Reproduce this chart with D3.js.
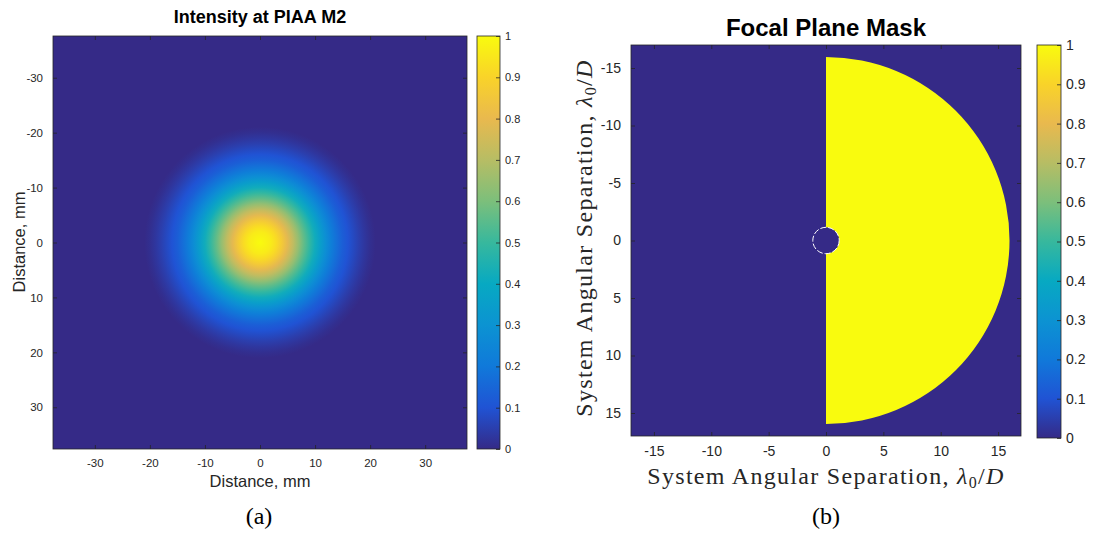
<!DOCTYPE html>
<html>
<head>
<meta charset="utf-8">
<script src="https://cdn.jsdelivr.net/npm/d3@7"></script>
<style>
  body { margin: 0; background: #fff; }
  svg { display: block; }
  .tick text { fill: #262626; }
</style>
</head>
<body>
<script>
// parula colormap stops (value -> colour)
var cmapValues = [0, 0.1, 0.2, 0.3, 0.4, 0.5, 0.6, 0.7, 0.8, 0.9, 1];
var cmapColors = ["#352a87", "#2053d4", "#1079da", "#0c93d2", "#07a9c2", "#37b89d",
                  "#7cbf7b", "#b7bd64", "#e9b94e", "#f9d329", "#f9fb0e"];

// (a) radial intensity profile
var radiusMm = [0, 2, 3, 4, 5, 6, 7, 8, 9, 10, 11, 12, 13, 14, 15, 16, 17, 18, 19, 20, 21];
var intensity = [1, 0.96, 0.92, 0.86, 0.79, 0.72, 0.64, 0.56, 0.49, 0.42, 0.35, 0.28,
                 0.22, 0.17, 0.13, 0.1, 0.075, 0.05, 0.03, 0.012, 0];
var ticksA = [-30, -20, -10, 0, 10, 20, 30];

// (b) focal plane mask: half annulus
var maskInner = 1.15;
var maskOuter = 16;
var ticksB = [-15, -10, -5, 0, 5, 10, 15];
var cbTicks = [0, 0.1, 0.2, 0.3, 0.4, 0.5, 0.6, 0.7, 0.8, 0.9, 1];

var width = 1099, height = 534;
var svg = d3.select("body").append("svg").attr("width", width).attr("height", height);
var defs = svg.append("defs");

var color = d3.scaleLinear().domain(cmapValues).range(cmapColors);
var sans = "'Liberation Sans', Arial, Helvetica, sans-serif";
var serif = "'Liberation Serif', 'DejaVu Serif', serif";
var frameColor = "#262626";
var hyphen = function(d) { return String(d).replace("\u2212", "-"); };

// inward ticks on all four sides, MATLAB style
function boxAxes(g, x, y, ticks, fontSize) {
  var x0 = x.range()[0], x1 = x.range()[1], y0 = y.range()[0], y1 = y.range()[1];
  g.append("g").attr("transform", "translate(0," + y1 + ")")
    .call(d3.axisBottom(x).tickValues(ticks).tickSizeInner(-4).tickSizeOuter(0).tickPadding(10).tickFormat(hyphen));
  g.append("g").attr("transform", "translate(0," + y0 + ")")
    .call(d3.axisTop(x).tickValues(ticks).tickSizeInner(-4).tickSizeOuter(0).tickFormat(""));
  g.append("g").attr("transform", "translate(" + x0 + ",0)")
    .call(d3.axisLeft(y).tickValues(ticks).tickSizeInner(-4).tickSizeOuter(0).tickPadding(10).tickFormat(hyphen));
  g.append("g").attr("transform", "translate(" + x1 + ",0)")
    .call(d3.axisRight(y).tickValues(ticks).tickSizeInner(-4).tickSizeOuter(0).tickFormat(""));
  g.selectAll(".domain").remove();
  g.selectAll(".tick line").attr("stroke", frameColor).attr("stroke-width", 0.8);
  g.selectAll(".tick text").attr("font-family", sans).attr("font-size", fontSize);
  g.append("rect").attr("x", x0).attr("y", y0).attr("width", x1 - x0).attr("height", y1 - y0)
    .attr("fill", "none").attr("stroke", frameColor).attr("stroke-width", 0.8);
}

function colorbar(id, x0, x1, y0, y1, fontSize) {
  var cy = d3.scaleLinear().domain([0, 1]).range([y1, y0]);
  var grad = defs.append("linearGradient").attr("id", id)
    .attr("x1", 0).attr("y1", 1).attr("x2", 0).attr("y2", 0);
  grad.selectAll("stop").data(cmapValues).enter().append("stop")
    .attr("offset", function(d) { return d; })
    .attr("stop-color", function(d) { return color(d); });
  var g = svg.append("g");
  g.append("rect").attr("x", x0).attr("y", y0).attr("width", x1 - x0).attr("height", y1 - y0)
    .attr("fill", "url(#" + id + ")");
  var ax = g.append("g").attr("transform", "translate(" + x1 + ",0)")
    .call(d3.axisRight(cy).tickValues(cbTicks).tickSizeInner(-4).tickSizeOuter(0).tickPadding(5)
      .tickFormat(function(d) { return d === 0 || d === 1 ? d3.format("d")(d) : d3.format(".1f")(d); }));
  ax.select(".domain").remove();
  ax.selectAll(".tick line").attr("stroke", frameColor).attr("stroke-width", 0.8);
  ax.selectAll(".tick text").attr("font-family", sans).attr("font-size", fontSize);
  g.append("rect").attr("x", x0).attr("y", y0).attr("width", x1 - x0).attr("height", y1 - y0)
    .attr("fill", "none").attr("stroke", frameColor).attr("stroke-width", 0.8);
}

// ---------- (a) Intensity at PIAA M2 ----------
var xA = d3.scaleLinear().domain([-37.6, 37.6]).range([53, 467]);
var yA = d3.scaleLinear().domain([-37.6, 37.6]).range([36, 449]);
var rA = d3.scaleLinear().domain([0, d3.max(radiusMm)]).range([0, 1]);

var gradA = defs.append("radialGradient").attr("id", "beam")
  .attr("gradientUnits", "userSpaceOnUse")
  .attr("cx", xA(0)).attr("cy", yA(0)).attr("fx", xA(0)).attr("fy", yA(0))
  .attr("r", xA(d3.max(radiusMm)) - xA(0));
gradA.selectAll("stop").data(radiusMm).enter().append("stop")
  .attr("offset", function(d) { return rA(d); })
  .attr("stop-color", function(d, i) { return color(intensity[i]); });

var gA = svg.append("g");
gA.append("rect").attr("x", 53).attr("y", 36).attr("width", 414).attr("height", 413)
  .attr("fill", "url(#beam)");
boxAxes(gA, xA, yA, ticksA, 11.5);

svg.append("text").attr("x", 260).attr("y", 23).attr("text-anchor", "middle")
  .attr("font-family", sans).attr("font-weight", "bold").attr("font-size", 18)
  .text("Intensity at PIAA M2");
svg.append("text").attr("x", 260).attr("y", 487).attr("text-anchor", "middle")
  .attr("font-family", sans).attr("font-size", 16.5).attr("fill", frameColor)
  .text("Distance, mm");
svg.append("text").attr("transform", "translate(25,242) rotate(-90)").attr("text-anchor", "middle")
  .attr("font-family", sans).attr("font-size", 16.5).attr("fill", frameColor)
  .text("Distance, mm");
colorbar("cbA", 477, 500, 36, 449, 11);

// ---------- (b) Focal Plane Mask ----------
var xB = d3.scaleLinear().domain([-17, 17]).range([631, 1021]);
var yB = d3.scaleLinear().domain([-17, 17]).range([45, 436]);
var rB = d3.scaleLinear().domain([0, 17]).range([0, xB(17) - xB(0)]);

var gB = svg.append("g");
gB.append("rect").attr("x", 631).attr("y", 45).attr("width", 390).attr("height", 391)
  .attr("fill", color(0));
gB.append("path")
  .attr("transform", "translate(" + xB(0) + "," + yB(0) + ")")
  .attr("d", d3.arc().innerRadius(rB(maskInner)).outerRadius(rB(maskOuter))
    .startAngle(0).endAngle(Math.PI)())
  .attr("fill", color(1));
gB.append("circle").attr("cx", xB(0)).attr("cy", yB(0)).attr("r", rB(maskInner))
  .attr("fill", "none").attr("stroke", "#fff").attr("stroke-width", 1)
  .attr("stroke-dasharray", "6,2");
boxAxes(gB, xB, yB, ticksB, 14);

svg.append("text").attr("x", 826).attr("y", 36).attr("text-anchor", "middle")
  .attr("font-family", sans).attr("font-weight", "bold").attr("font-size", 24)
  .text("Focal Plane Mask");

function latexLabel(sel) {
  sel.attr("font-family", serif).attr("font-size", 24).attr("fill", frameColor)
    .attr("letter-spacing", 1.3).attr("text-anchor", "middle");
  sel.append("tspan").text("System Angular Separation, ");
  sel.append("tspan").attr("font-style", "italic").text("λ");
  sel.append("tspan").attr("font-size", 16).attr("dy", 4).text("0");
  sel.append("tspan").attr("dy", -4).text("/");
  sel.append("tspan").attr("font-style", "italic").text("D");
}
svg.append("text").attr("x", 826).attr("y", 484).call(latexLabel);
svg.append("text").attr("transform", "translate(592,238) rotate(-90)").call(latexLabel);
colorbar("cbB", 1037, 1061, 45, 438, 14);

// captions
svg.append("text").attr("x", 259).attr("y", 524).attr("text-anchor", "middle")
  .attr("font-family", serif).attr("font-size", 24).text("(a)");
svg.append("text").attr("x", 826).attr("y", 524).attr("text-anchor", "middle")
  .attr("font-family", serif).attr("font-size", 24).text("(b)");
</script>
</body>
</html>
